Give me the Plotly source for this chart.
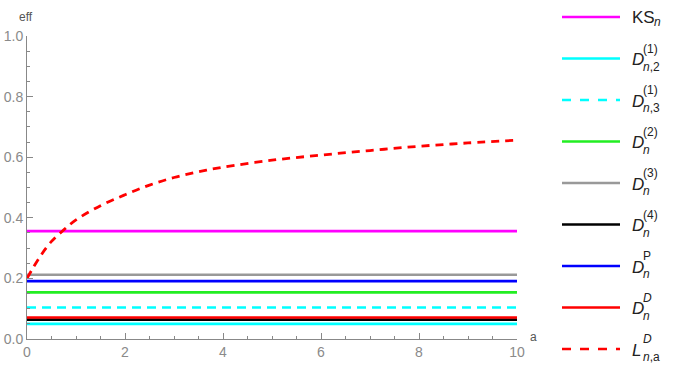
import plotly.graph_objects as go

# ---- data ----
a_range = [0, 10]
const_names = ["KS_n", "D_n2_1", "D_n3_1", "D_n_2", "D_n_3", "D_n_4", "D_n_P", "D_n_D"]
const_values = [0.356, 0.050, 0.104, 0.154, 0.212, 0.064, 0.191, 0.071]
const_colors = ["#FF00FF", "#00FFFF", "#00FFFF", "#22EE22", "#999999", "#000000", "#0000FF", "#FF0000"]
const_dash = ["solid", "solid", "dash", "solid", "solid", "solid", "solid", "solid"]

L_a = [0, 0.25, 0.5, 0.75, 1, 1.5, 2, 2.5, 3, 3.5, 4, 5, 6, 7, 8, 9, 10]
L_eff = [0.200, 0.268, 0.322, 0.360, 0.393, 0.440, 0.476, 0.508, 0.533, 0.552, 0.567, 0.590, 0.607, 0.622, 0.636, 0.647, 0.656]

# legend labels: (main, sup, sub)
legend_labels = [
    ("KS", "", "<i>n</i>"),
    ("<i>D</i>", "(1)", "<i>n</i>,2"),
    ("<i>D</i>", "(1)", "<i>n</i>,3"),
    ("<i>D</i>", "(2)", "<i>n</i>"),
    ("<i>D</i>", "(3)", "<i>n</i>"),
    ("<i>D</i>", "(4)", "<i>n</i>"),
    ("<i>D</i>", "P", "<i>n</i>"),
    ("<i>D</i>", "<i>D</i>", "<i>n</i>"),
    ("<i>L</i>", "<i>D</i>", "<i>n</i>,a"),
]
legend_colors = const_colors + ["#FF0000"]
legend_dash = const_dash + ["dash"]

FONT = "Liberation Sans"

fig = go.Figure()
for name, v, c, d in zip(const_names, const_values, const_colors, const_dash):
    fig.add_trace(go.Scatter(x=a_range, y=[v, v], mode="lines", name=name,
                             line=dict(color=c, width=2.6, dash="9px,6px" if d == "dash" else d),
                             showlegend=False, hoverinfo="skip"))
fig.add_trace(go.Scatter(x=L_a, y=L_eff, mode="lines", name="L", line_shape="spline",
                         line=dict(color="#FF0000", width=2.8, dash="8px,6px"),
                         showlegend=False, hoverinfo="skip"))

# plot geometry (pixels)
W, H = 675, 373
L_px, R_px, T_px, B_px = 27, 517, 36, 339
pw, ph = R_px - L_px, B_px - T_px

def px_x(x):
    return (x - L_px) / pw

def px_y(y):
    return (B_px - y) / ph

shapes = []
annotations = []
font_main = dict(family=FONT, size=17, color="#222222")
font_small = dict(family=FONT, size=12, color="#222222")
for i, (main, sup, sub) in enumerate(legend_labels):
    yy = 17 + i * 41.5
    dash = "dash" if legend_dash[i] == "dash" else "solid"
    shapes.append(dict(type="line", xref="paper", yref="paper",
                       x0=px_x(562), x1=px_x(620), y0=px_y(yy), y1=px_y(yy),
                       line=dict(color=legend_colors[i], width=2.6, dash=dash)))
    annotations.append(dict(xref="paper", yref="paper", x=px_x(630), y=px_y(yy + 1),
                            text=main, showarrow=False, xanchor="left", yanchor="middle",
                            font=font_main))
    off = 652 if main == "KS" else 641
    if sup:
        annotations.append(dict(xref="paper", yref="paper", x=px_x(off), y=px_y(yy - 10),
                                text=sup, showarrow=False, xanchor="left", yanchor="middle",
                                font=font_small))
    if sub:
        annotations.append(dict(xref="paper", yref="paper", x=px_x(off), y=px_y(yy + 8 if main != "KS" else yy + 5),
                                text=sub, showarrow=False, xanchor="left", yanchor="middle",
                                font=font_small))

annotations.append(dict(xref="paper", yref="paper", x=px_x(26), y=px_y(17), text="eff",
                        showarrow=False, xanchor="center", yanchor="middle",
                        font=dict(family=FONT, size=12, color="#555555")))
annotations.append(dict(xref="paper", yref="paper", x=px_x(533), y=px_y(337), text="a",
                        showarrow=False, xanchor="center", yanchor="middle",
                        font=dict(family=FONT, size=12, color="#555555")))

axis_common = dict(showgrid=False, zeroline=False, showline=True, linecolor="#888888",
                   linewidth=1, ticks="inside", tickcolor="#888888", automargin=False,
                   tickfont=dict(family=FONT, size=14, color="#8a8a8a"))

fig.update_layout(
    width=W, height=H,
    margin=dict(l=L_px, r=W - R_px, t=T_px, b=H - B_px, autoexpand=False),
    paper_bgcolor="white", plot_bgcolor="white",
    font=dict(family=FONT),
    xaxis=dict(range=[0, 10], dtick=2, ticklen=6, tickformat="d",
               minor=dict(dtick=0.5, ticklen=3, ticks="inside", tickcolor="#888888"),
               **axis_common),
    yaxis=dict(range=[0, 1], dtick=0.2, ticklen=6, tickformat=".1f",
               minor=dict(dtick=0.05, ticklen=3, ticks="inside", tickcolor="#888888"),
               **axis_common),
    shapes=shapes, annotations=annotations,
    showlegend=False,
)

fig.write_html("out.html")
